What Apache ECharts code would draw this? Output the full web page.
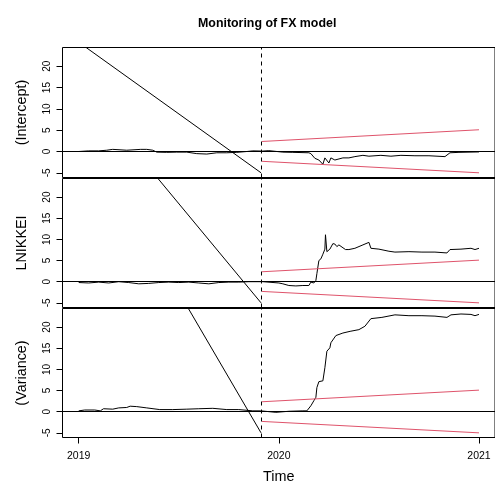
<!DOCTYPE html>
<html>
<head>
<meta charset="utf-8">
<script src="https://cdn.jsdelivr.net/npm/echarts@6/dist/echarts.min.js"></script>
<style>
  html, body { margin: 0; padding: 0; background: #fff; }
  #chart { width: 495px; height: 486px; }
</style>
</head>
<body>
<div id="chart"></div>
<script>
// --- data (time in decimal years) ---
var panelNames = ['(Intercept)', 'LNIKKEI', '(Variance)'];
var yTicks = [-5, 0, 5, 10, 15, 20];
var xTicks = [2019, 2020, 2021];
var monitorStart = 2019.911;

var interceptTime = [2019.00, 2019.05, 2019.10, 2019.14, 2019.17, 2019.24, 2019.31, 2019.34, 2019.37, 2019.39,
  2019.44, 2019.49, 2019.54, 2019.59, 2019.64, 2019.69, 2019.74, 2019.79, 2019.84, 2019.87, 2019.92, 2019.95,
  2020.02, 2020.07, 2020.15, 2020.16, 2020.18, 2020.20, 2020.22, 2020.23, 2020.25, 2020.26, 2020.28, 2020.32,
  2020.35, 2020.38, 2020.42, 2020.45, 2020.51, 2020.56, 2020.61, 2020.68, 2020.75, 2020.83, 2020.855, 2020.90, 2021.00];
var interceptValue = [0, 0.15, 0.15, 0.3, 0.5, 0.3, 0.5, 0.5, 0.3, -0.15,
  -0.2, -0.15, -0.15, -0.5, -0.6, -0.3, -0.3, -0.2, 0, 0.15, 0.1, 0.2,
  -0.15, -0.2, -0.3, -0.5, -1.6, -2.0, -3.0, -1.5, -2.7, -1.5, -2.0, -1.5,
  -1.5, -1.2, -0.9, -1.1, -0.9, -1.1, -0.9, -1.0, -1.0, -1.2, -0.3, -0.2, -0.1];

var nikkeiTime = [2019.00, 2019.05, 2019.10, 2019.15, 2019.20, 2019.25, 2019.30, 2019.35, 2019.40, 2019.45,
  2019.50, 2019.55, 2019.60, 2019.65, 2019.70, 2019.75, 2019.80, 2019.85, 2019.92, 2020.00, 2020.02, 2020.05,
  2020.085, 2020.12, 2020.15, 2020.16, 2020.175, 2020.185, 2020.19, 2020.20, 2020.21, 2020.22, 2020.23, 2020.233,
  2020.24, 2020.255, 2020.27, 2020.28, 2020.29, 2020.30, 2020.333, 2020.35, 2020.38, 2020.42, 2020.45, 2020.46,
  2020.50, 2020.55, 2020.58, 2020.65, 2020.715, 2020.78, 2020.84, 2020.855, 2020.91, 2020.96, 2020.98, 2021.00];
var nikkeiValue = [-0.2, -0.3, -0.1, -0.3, 0, -0.2, -0.5, -0.4, -0.2, -0.1,
  -0.2, -0.1, -0.3, -0.5, -0.2, -0.1, -0.1, 0, 0, -0.3, -0.5, -0.9,
  -1.0, -0.9, -0.9, -0.1, -0.3, 0.3, 1.9, 5.0, 5.4, 6.5, 7.7, 11.1,
  7.1, 7.7, 9.0, 8.9, 8.3, 8.7, 7.6, 7.6, 7.9, 8.7, 9.3, 7.9,
  7.7, 7.2, 7.0, 7.1, 7.0, 7.0, 6.8, 7.6, 7.7, 7.9, 7.6, 7.9];

var varianceTime = [2019.00, 2019.03, 2019.08, 2019.108, 2019.124, 2019.17, 2019.20, 2019.24, 2019.257, 2019.29,
  2019.34, 2019.405, 2019.47, 2019.54, 2019.60, 2019.67, 2019.74, 2019.80, 2019.87, 2019.91, 2019.985, 2020.05,
  2020.12, 2020.14, 2020.16, 2020.175, 2020.185, 2020.19, 2020.20, 2020.22, 2020.23, 2020.24, 2020.255, 2020.26,
  2020.285, 2020.32, 2020.356, 2020.40, 2020.43, 2020.46, 2020.515, 2020.58, 2020.65, 2020.715, 2020.78, 2020.84,
  2020.86, 2020.91, 2020.96, 2020.98, 2021.00];
var varianceValue = [0.2, 0.4, 0.4, 0.2, 0.7, 0.6, 0.9, 1.0, 1.3, 1.2,
  0.9, 0.5, 0.5, 0.6, 0.7, 0.8, 0.5, 0.5, 0.2, 0.2, -0.15, 0.1,
  0.2, 0.2, 1.4, 2.6, 3.4, 5.7, 7.1, 7.3, 10.4, 14.3, 15.1, 16.3,
  18.0, 18.6, 19.0, 19.4, 20.2, 22.0, 22.3, 22.9, 22.7, 22.7, 22.6, 22.3,
  22.9, 23.1, 23.0, 22.7, 23.0];

// boundaries (start of monitoring -> end)
var boundTime = [2019.916, 2021.0];
var upperBound = [2.35, 5.1];
var lowerBound = [-2.3, -5.0];
// the straight history lines: where they leave the top of each panel, down to -5 at the monitoring start
var diagTime = [[2019.037, 2019.911], [2019.396, 2019.911], [2019.548, 2019.911]];
var diagValue = [24.4, -5];

var processTime = [interceptTime, nikkeiTime, varianceTime];
var processValue = [interceptValue, nikkeiValue, varianceValue];

function pairs(xs, ys) {
  return xs.map(function (x, i) { return [x, ys[i]]; });
}

var font = 'Liberation Sans, Arial, Helvetica, sans-serif';
var red = '#DF536B';
// half-pixel edges so the 1px boxes stay crisp; neighbouring boxes give the 2px separators
var gridTops = [47.5, 178.5, 308.5];
var gridHeights = [130, 129, 129];

var grids = [], xAxes = [], yAxes = [], series = [];
panelNames.forEach(function (name, i) {
  var last = i === panelNames.length - 1;
  grids.push({
    left: 62.5, width: 435, top: gridTops[i], height: gridHeights[i],
    show: true, borderColor: '#000', borderWidth: 1, backgroundColor: 'transparent'
  });
  xAxes.push({
    type: 'value', gridIndex: i, min: 2018.919, max: 2021.08,
    show: last,
    name: last ? 'Time' : '', nameLocation: 'middle', nameGap: 33,
    nameTextStyle: { fontSize: 14.4, color: '#000', fontFamily: font },
    axisLine: { show: false, onZero: false },
    axisTick: { show: true, length: 6, customValues: xTicks, lineStyle: { color: '#000' } },
    axisLabel: {
      customValues: xTicks, fontSize: 10.5, color: '#000', fontFamily: font, margin: 13,
      formatter: function (v) { return String(v); }
    },
    splitLine: { show: false }
  });
  yAxes.push({
    type: 'value', gridIndex: i, min: -6.1, max: 24.4,
    name: name, nameLocation: 'middle', nameGap: 33, nameRotate: 90,
    nameTextStyle: { fontSize: 14.4, color: '#000', fontFamily: font },
    axisLine: { show: false, onZero: false },
    axisTick: { show: true, length: 6, customValues: yTicks, lineStyle: { color: '#000' } },
    axisLabel: { customValues: yTicks, rotate: 90, fontSize: 10, color: '#000', fontFamily: font, margin: 10 },
    splitLine: { show: false }
  });
  series.push({
    type: 'line', xAxisIndex: i, yAxisIndex: i, showSymbol: false, symbol: 'none',
    data: pairs(processTime[i], processValue[i]),
    lineStyle: { color: '#000', width: 1 },
    markLine: {
      silent: true, symbol: ['none', 'none'], label: { show: false },
      data: [
        { yAxis: 0, lineStyle: { color: '#000', width: 1, type: 'solid' } },
        { xAxis: monitorStart, lineStyle: { color: '#000', width: 1, type: [4, 4] } }
      ]
    }
  });
  series.push({
    type: 'line', xAxisIndex: i, yAxisIndex: i, symbol: 'none', clip: true,
    data: pairs(diagTime[i], diagValue),
    lineStyle: { color: '#000', width: 1 }
  });
  series.push({
    type: 'line', xAxisIndex: i, yAxisIndex: i, symbol: 'none',
    data: pairs(boundTime, upperBound),
    lineStyle: { color: red, width: 1 }
  });
  series.push({
    type: 'line', xAxisIndex: i, yAxisIndex: i, symbol: 'none',
    data: pairs(boundTime, lowerBound),
    lineStyle: { color: red, width: 1 }
  });
});

var chart = echarts.init(document.getElementById('chart'), null, { renderer: 'canvas' });
chart.setOption({
  animation: false,
  backgroundColor: '#fff',
  title: {
    text: 'Monitoring of FX model', left: 193, top: 13,
    textStyle: { fontSize: 12.4, fontWeight: 'bold', color: '#000', fontFamily: font }
  },
  grid: grids,
  xAxis: xAxes,
  yAxis: yAxes,
  series: series
});
</script>
</body>
</html>
